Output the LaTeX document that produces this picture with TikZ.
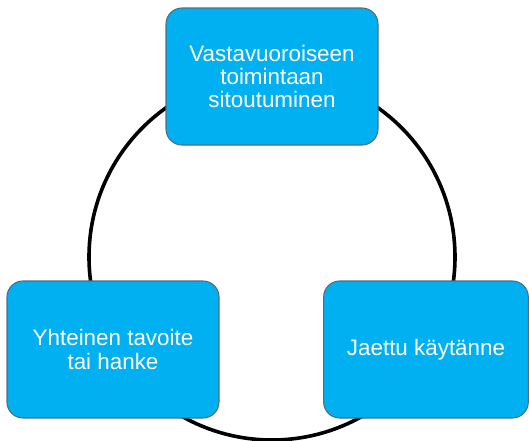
\documentclass[tikz,border=0pt]{standalone}
\usepackage{fontspec}
\setmainfont{Liberation Sans}
\definecolor{boxfill}{HTML}{00B0F0}
\definecolor{boxborder}{HTML}{4F6F80}
\begin{document}
\begin{tikzpicture}[x=0.75pt,y=-0.75pt,
  box/.style={draw=boxborder, line width=0.8pt, fill=boxfill, rounded corners=12pt,
    text=white, align=center, font=\fontsize{16.8}{17.6}\selectfont, inner sep=0pt,
    minimum height=102.75pt},
  ring/.style={line width=2.7pt, draw=black}]
\useasboundingbox (0,0) rectangle (529,440);
\coordinate (c) at (272,257);
\draw[ring] (c) circle [radius=183];
\node[box, minimum width=159pt] (top) at (272,76.5) {Vastavuoroiseen\\toimintaan\\sitoutuminen};
\node[box, minimum width=159pt] (left) at (113,349.5) {Yhteinen tavoite\\tai hanke};
\node[box, minimum width=153.5pt] (right) at (426,349.5) {Jaettu käytänne};
\end{tikzpicture}
\end{document}
